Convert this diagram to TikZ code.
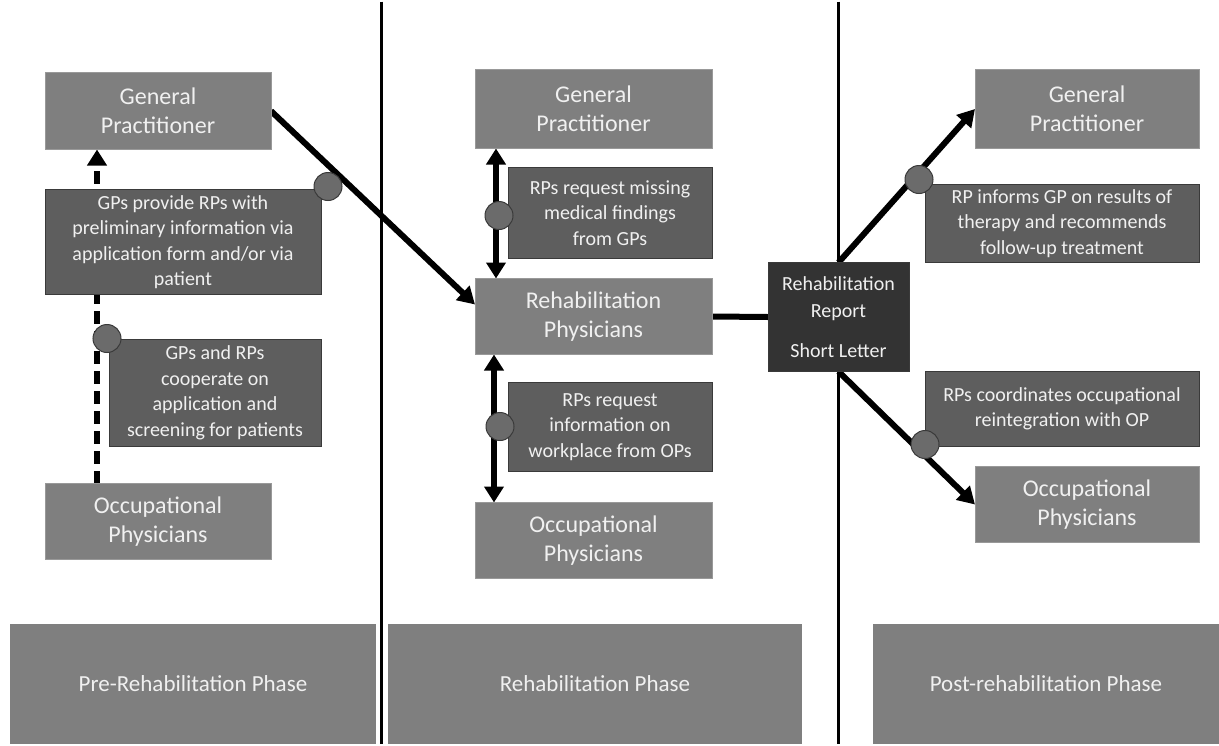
\documentclass[tikz,border=0pt]{standalone}
\usepackage{fontspec}
\setmainfont{Carlito}
\usetikzlibrary{arrows.meta,backgrounds,calc}
\pgfdeclarelayer{lines}
\pgfsetlayers{background,lines,main}
\definecolor{boxgray}{HTML}{7F7F7F}
\definecolor{boxedge}{HTML}{999999}
\definecolor{dkgray}{HTML}{5E5E5E}
\definecolor{dkedge}{HTML}{3A3A3A}
\definecolor{repfill}{HTML}{333333}
\definecolor{circfill}{HTML}{6B6B6B}
\definecolor{txt}{HTML}{F0F0F0}
\tikzset{
  base/.style={rectangle, inner sep=0pt, outer sep=0pt, align=center, text=txt},
  lbox/.style={base, fill=boxgray, draw=boxedge, line width=1pt, font=\fontsize{24}{29}\selectfont},
  dbox/.style={base, fill=dkgray, draw=dkedge, line width=1pt, font=\fontsize{20}{25.5}\selectfont},
  rbox/.style={base, fill=repfill, draw=dkedge, line width=1pt, font=\fontsize{20}{27}\selectfont},
  phase/.style={base, fill=boxgray, font=\fontsize{23}{28}\selectfont},
  dot/.style={circle, fill=circfill, draw=dkedge, line width=1pt, minimum size=28pt, inner sep=0pt},
  link/.style={line width=6pt, draw=black},
  tipend/.style={-{Triangle[length=17pt,width=19pt]}},
  tipboth/.style={{Triangle[length=16pt,width=19pt]}-{Triangle[length=16pt,width=19pt]}},
  sepline/.style={line width=3pt, draw=black}
}
\begin{document}
\begin{tikzpicture}[x=1pt,y=-1pt]
\begin{pgfonlayer}{background}
\path[use as bounding box, fill=white] (0,0) rectangle (1219,742);
\end{pgfonlayer}

% Pre-rehabilitation column
\node[lbox, minimum width=226pt, minimum height=77pt] (gp1) at (158,109.5) {General\\Practitioner};
\node[dbox, minimum width=276pt, minimum height=105pt] (d1) at (183,240.5) {GPs provide RPs with\\preliminary information via\\application form and/or via\\patient};
\node[dbox, minimum width=212pt, minimum height=107pt] (d2) at (215,391.5) {GPs and RPs\\cooperate on\\application and\\screening for patients};
\node[lbox, minimum width=226pt, minimum height=76pt] (op1) at (158,520) {Occupational\\Physicians};

% Rehabilitation column
\node[lbox, minimum width=237pt, minimum height=79pt] (gp2) at (593.5,107.5) {General\\Practitioner};
\node[dbox, minimum width=204pt, minimum height=91pt] (d3) at (610,211.5) {RPs request missing\\medical findings\\from GPs};
\node[lbox, minimum width=237pt, minimum height=76pt] (rp) at (593.5,315) {Rehabilitation\\Physicians};
\node[dbox, minimum width=204pt, minimum height=89pt] (d4) at (610,425.5) {RPs request\\information on\\workplace from OPs};
\node[lbox, minimum width=237pt, minimum height=76pt] (op2) at (593.5,539) {Occupational\\Physicians};

% Report
\node[rbox, minimum width=141pt, minimum height=109pt] (rep) at (838.5,315.5) {Rehabilitation\\Report\\[13pt]Short Letter};

% Post-rehabilitation column
\node[lbox, minimum width=224pt, minimum height=79pt] (gp3) at (1087,107.5) {General\\Practitioner};
\node[dbox, minimum width=274pt, minimum height=78pt] (d5) at (1062,222) {RP informs GP on results of\\therapy and recommends\\follow-up treatment};
\node[dbox, minimum width=274pt, minimum height=75pt] (d6) at (1062,407.5) {RPs coordinates occupational\\reintegration with OP};
\node[lbox, minimum width=224pt, minimum height=76pt] (op3) at (1087,503) {Occupational\\Physicians};

% Phase boxes
\node[phase, minimum width=366pt, minimum height=120pt] (ph1) at (193,682) {Pre-Rehabilitation Phase};
\node[phase, minimum width=414pt, minimum height=120pt] (ph2) at (595,682) {Rehabilitation Phase};
\node[phase, minimum width=346pt, minimum height=120pt] (ph3) at (1046,682) {Post-rehabilitation Phase};

% helper coordinates
\coordinate (dx) at (97,0);
\coordinate (ux) at (496,0);
\coordinate (lx) at (494,0);
\coordinate (s1t) at (381,0);
\coordinate (s1b) at (381,742);
\coordinate (s2t) at (838,0);
\coordinate (s2b) at (838,742);

\begin{pgfonlayer}{lines}
  \draw[sepline] (s1t) -- (s1b);
  \draw[sepline] (s2t) -- (s2b);
  \draw[line width=6.5pt, dash pattern=on 13pt off 7pt, -{Triangle[length=16pt,width=19pt]}] (dx |- op1.north) -- (dx |- gp1.south);
  \draw[link, tipend] (gp1.east) -- ([yshift=12pt]rp.west);
  \draw[link, tipboth] (ux |- gp2.south) -- (ux |- rp.north);
  \draw[link, tipboth] (lx |- rp.south) -- (lx |- op2.north);
  \draw[link] (rp.east) -- (rep.west);
  \draw[link, tipend] (rep.north) -- (gp3.west);
  \draw[link, tipend] (rep.south) -- (op3.west);
\end{pgfonlayer}

% circles
\node[dot] (c1) at (328,185) {};
\node[dot] (c2) at (107,337) {};
\node[dot] (c3) at (499,214) {};
\node[dot] (c4) at (500,425) {};
\node[dot] (c5) at (919,178) {};
\node[dot] (c6) at (925,443) {};
\end{tikzpicture}
\end{document}
